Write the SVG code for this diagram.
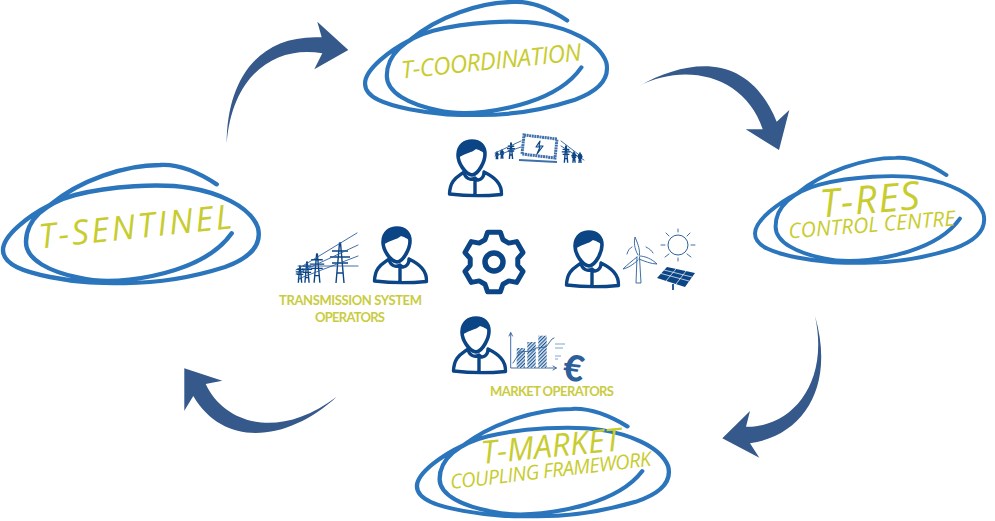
<svg xmlns="http://www.w3.org/2000/svg" width="995" height="521" viewBox="0 0 995 521">
<style>
.scr{fill:none;stroke:#2a75bb;stroke-width:4.400;stroke-linecap:round;stroke-linejoin:round}
.hw{font-family:"Open Sans","DejaVu Sans",sans-serif;font-style:italic;font-weight:500;fill:#c8cc2e}
.lb{font-family:"Lato","Liberation Sans",sans-serif;font-weight:700;font-size:13px;fill:#c9cc3f}
.arrow{fill:#35598a}
.ln{fill:none;stroke:#0b4586;stroke-linecap:round;stroke-linejoin:round}
.thin{fill:none;stroke:#2d5f9a;stroke-width:.9;stroke-linecap:round;stroke-linejoin:round}
</style>
<defs>
<path id="scribble" class="scr" d="M216.700,34.300C195,20 175,14 160,15C125,15 80,30 50,55C30,65 3,85 3,100C3,115 25,122 50,127C80,133 100,133 125,133C165,133 200,125 225,117C250,108 262,95 258,78C250,55 215,42 190,38C160,33 110,36 75,45C45,53 26,70 26,92C26,110 50,122 80,128C110,135 150,128 175,120C200,112 220,100 231.700,83.300"/>
<g id="person">
<path class="ln" stroke-width="3.600" d="M10,14C10,4 17,0 24,0C32,0 37,5 37,13C37,20 31,33 24,34C17,33 10,22 10,14Z"/>
<path fill="#0b4586" d="M9,15C9,4 17,-1 24,-1C32,-1 38,5 38,14C34,10 31,9 28,8C24,12 16,12 9,18Z"/>
<path class="ln" stroke-width="3.400" d="M16,31C10,36 2,38 1.500,53C18,55 38,55 53.500,53.500C54,42 46,36 36,31M16,31C17,37 22,40 27,37C30,41 36,38 36,31M27,38L27,54"/>
</g>
<path id="pylon" d="M-4,40L-.5,0L.5,0L4,40M-8,8H8M-10,14H10M-8,20H8M-3,30H3" fill="none" stroke="#0b4586" stroke-width="1.400" stroke-linejoin="round" vector-effect="non-scaling-stroke"/>
<pattern id="hatch" width="2.500" height="2.500" patternUnits="userSpaceOnUse" patternTransform="rotate(45)">
<rect width="2.500" height="2.500" fill="#dbe6f2"/><rect width="1.100" height="2.500" fill="#1d568f"/>
</pattern>
</defs>

<rect width="995" height="521" fill="#fff"/>

<g id="connectors">
<path class="arrow" d="M226.700,143.300C227,80 258,34 321.700,37.300L317.300,21.700L348.300,50L314.300,69.300L322.300,53.300C275,45 232,75 226.700,143.300Z"/>
<path class="arrow" d="M639,86C690,58 748,52 776.700,121.700L789.300,110L779,150L745.700,129.300L762.700,129.300C745,75 685,62 639,86Z"/>
<path class="arrow" d="M815,316C835,385 805,435 750,443.300L759.300,457.700L722.300,438.300L750,411L746,426.700C790,428 830,385 815,316Z"/>
<path class="arrow" d="M336.700,396.700C290,440 225,450 193.300,396L184.300,410.700L184.300,368.300L222.300,380.700L205.700,384C225,425 280,440 336.700,396.700Z"/>
</g>

<g id="t-sentinel">
<use href="#scribble" transform="translate(0,150)"/>
<text class="hw" font-size="34" textLength="194" lengthAdjust="spacing" transform="translate(40,248.500) rotate(-6)">T-SENTINEL</text>
</g>
<g id="t-coordination">
<use href="#scribble" transform="matrix(.946 0 0 .958 362.200 -12.400)"/>
<text class="hw" font-size="24" textLength="181" lengthAdjust="spacing" transform="translate(402,78.500) rotate(-5.800)">T-COORDINATION</text>
</g>
<g id="t-res">
<use href="#scribble" transform="matrix(.896 0 0 .89 752.300 144.500)"/>
<text class="hw" font-size="39" textLength="100" lengthAdjust="spacing" transform="translate(821,217.500) rotate(-5)">T-RES</text>
<text class="hw" font-size="21" textLength="167" lengthAdjust="spacing" transform="translate(789,238.500) rotate(-4.500)">CONTROL CENTRE</text>
</g>
<g id="t-market">
<use href="#scribble" transform="matrix(.985 0 0 .91 414 395.300)"/>
<text class="hw" font-size="32" textLength="140" lengthAdjust="spacing" transform="translate(482,464) rotate(-5.600)">T-MARKET</text>
<text class="hw" font-size="20" textLength="202" lengthAdjust="spacing" transform="translate(451,489) rotate(-6.600)">COUPLING FRAMEWORK</text>
</g>

<g id="gear">
<path class="ln" stroke-width="5" transform="translate(494,262)" d="M-8.990,-22.250L-6.340,-29.830L6.340,-29.830L8.990,-22.250L14.780,-18.910L22.670,-20.410L29.010,-9.430L23.770,-3.340L23.770,3.340L29.010,9.430L22.670,20.410L14.780,18.910L8.990,22.250L6.340,29.830L-6.340,29.830L-8.990,22.250L-14.780,18.910L-22.670,20.410L-29.010,9.430L-23.770,3.340L-23.770,-3.340L-29.010,-9.430L-22.670,-20.410L-14.780,-18.910Z"/>
<circle class="ln" stroke-width="5.500" cx="494" cy="262" r="9"/>
</g>

<g id="coordination-operator">
<use href="#person" x="448" y="141"/>
<use href="#pylon" transform="translate(511,143) scale(.4)"/>
<use href="#pylon" transform="translate(502,150) scale(.22)"/>
<use href="#pylon" transform="translate(497,152) scale(.18)"/>
<path class="thin" d="M495,153L521,141M495,156L521,147M561,141L582,157M561,146L584,160"/>
<path d="M524,135L557,139L555,158L522,154Z" fill="#fff" stroke="#3f70a8" stroke-width="3" stroke-dasharray="2 .6"/>
<path d="M519,160L557,162" stroke="#3f70a8" stroke-width="2.200" fill="none"/>
<path class="ln" stroke-width="1.200" d="M540,141L536,147L540,147L537,154L543,146L539,146Z"/>
<use href="#pylon" transform="translate(566,146) scale(.42)"/>
<use href="#pylon" transform="translate(574,152) scale(.27)"/>
<use href="#pylon" transform="translate(580,153) scale(.25)"/>
</g>

<g id="tso">
<use href="#person" x="373" y="228"/>
<use href="#pylon" transform="translate(340,243)"/>
<use href="#pylon" transform="translate(317,254) scale(.72)"/>
<use href="#pylon" transform="translate(307,262) scale(.52)"/>
<use href="#pylon" transform="translate(300,266) scale(.42)"/>
<path class="thin" d="M296,270L357,233M296,274L358,245M298,279L358,256M298,266L358,266"/>
<text class="lb" x="279" y="305" textLength="143" lengthAdjust="spacing">TRANSMISSION SYSTEM</text>
<text class="lb" x="315" y="322" textLength="70" lengthAdjust="spacing">OPERATORS</text>
</g>

<g id="res-operator">
<use href="#person" x="565" y="232"/>
<path class="thin" stroke-width="1" d="M637,257L636,283H641L639.500,257M638,255C634,248 634,242 635,237C637,242 640,248 639.500,255M639.500,256C645,256 652,259 657,264C651,264 644,261 639,259M637,257C632,261 627,265 623,269C628,268 634,264 638,260"/>
<path class="thin" d="M627,254C628,250 630,248 632,247M646,247C650,249 652,251 653,253"/>
<circle cx="678" cy="245" r="10" fill="none" stroke="#2d5f9a" stroke-width="1"/>
<path class="thin" d="M678,232V229M687,236L690,233M691,245H695M687,254L691,257M678,258V261M669,254L665,257M665,245H661M669,236L666,233"/>
<path d="M667,267L695,273L685,287L657,278Z" fill="#0b4586"/>
<path d="M676,268.900L666,281M686,271L676,284.100M661,273.500L689,281M664,270L692,277" stroke="#fff" stroke-width=".7" fill="none"/>
<path d="M673,284V290" stroke="#2d5f9a" stroke-width="2"/>
</g>

<g id="market-operator">
<use href="#person" x="452" y="318"/>
<path class="thin" stroke-width="1" d="M510.700,333V368H556M509,336L510.700,332.500L512.500,336M553,366L556.500,368L553,370"/>
<rect x="516.700" y="348" width="8.300" height="20" fill="url(#hatch)"/>
<rect x="527.300" y="342" width="8.400" height="26" fill="url(#hatch)"/>
<rect x="538.300" y="335.700" width="8.400" height="32.300" fill="url(#hatch)"/>
<path class="thin" d="M513,363L520,352L531,351L536,348L546,347L552,339L554,338"/>
<path d="M555,344H565M555,348H563M555,356H561M555,359H558" stroke="#7da7d1" stroke-width="1" fill="none"/>
<text transform="translate(572,381) rotate(8)" text-anchor="middle" font-family="Lato,'Liberation Sans',sans-serif" font-weight="900" font-size="36" fill="#2d5f9a">€</text>
<text class="lb" x="490" y="396" textLength="124" lengthAdjust="spacing">MARKET OPERATORS</text>
</g>
</svg>
